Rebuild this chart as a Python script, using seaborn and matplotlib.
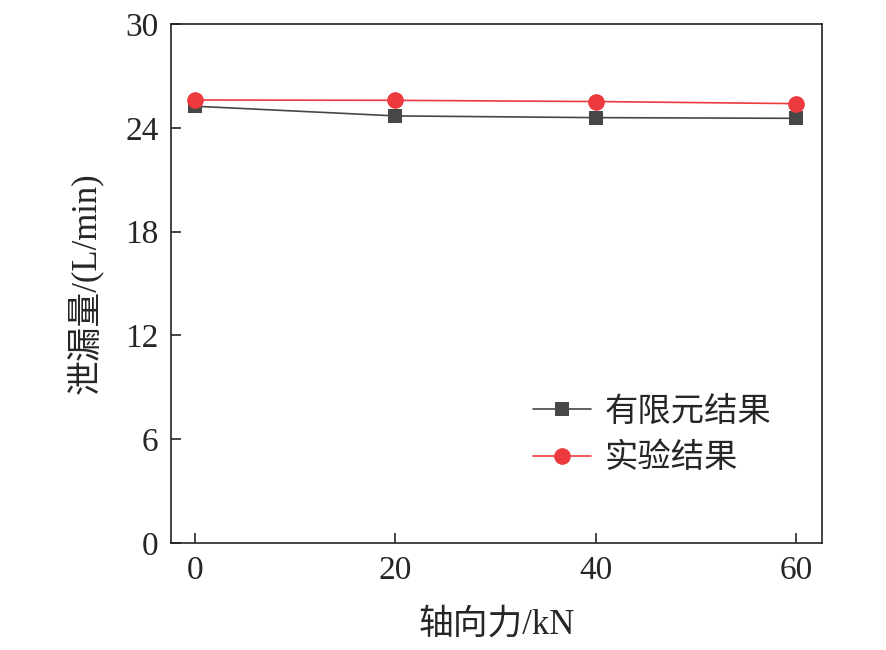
import matplotlib
matplotlib.use("Agg")
import matplotlib.pyplot as plt
import seaborn as sns
import pandas as pd

force = [0, 20, 40, 60]
fem = [25.25, 24.69, 24.59, 24.55]
exp = [25.61, 25.59, 25.52, 25.40]
series_names = ["有限元结果", "实验结果"]
yticks = [0, 6, 12, 18, 24, 30]
xticks = [0, 20, 40, 60]

sns.set_theme(style="ticks")
fam = ["Liberation Serif", "Noto Sans CJK SC"]
plt.rcParams["font.family"] = fam
plt.rcParams["axes.unicode_minus"] = False

df = pd.DataFrame({
    "force": force * 2,
    "leak": fem + exp,
    "series": [series_names[0]] * 4 + [series_names[1]] * 4,
})

fig = plt.figure(figsize=(8.86, 6.5), dpi=100)
ax = fig.add_axes([0.193, 0.1646, 0.735, 0.7984])

palette = {series_names[0]: "#474747", series_names[1]: "#ec3a3f"}
markers = {series_names[0]: "s", series_names[1]: "o"}
sns.lineplot(data=df, x="force", y="leak", hue="series", style="series",
             palette=palette, markers=markers, dashes=False, ax=ax,
             linewidth=1.2, markeredgewidth=0, legend=False)
for line, ms in zip(ax.lines, [9.5, 12]):
    line.set_markersize(ms)

ax.set_xlim(-2.4, 62.6)
ax.set_ylim(0, 30)
ax.set_xticks(xticks)
ax.set_yticks(yticks)
ax.tick_params(direction="in", length=7, width=1.2, labelsize=24, pad=9)
for lab in ax.get_xticklabels() + ax.get_yticklabels():
    lab.set_family(fam)
for s in ax.spines.values():
    s.set_linewidth(1.2)
    s.set_color("#222222")

ax.set_xlabel("轴向力/kN", fontsize=25, family=fam, labelpad=16)
ax.set_ylabel("泄漏量/(L/min)", fontsize=25, family=fam, labelpad=16)

from matplotlib.lines import Line2D
handles = [
    Line2D([], [], color="#474747", marker="s", markersize=9.5, linewidth=1.2, markeredgewidth=0),
    Line2D([], [], color="#ec3a3f", marker="o", markersize=12, linewidth=1.2, markeredgewidth=0),
]
leg = ax.legend(handles, series_names, loc="center left", bbox_to_anchor=(0.51, 0.207),
                frameon=False, handlelength=1.75, handletextpad=0.4,
                labelspacing=0.45, prop={"family": fam, "size": 24})

fig.savefig("out.png", dpi=100)
